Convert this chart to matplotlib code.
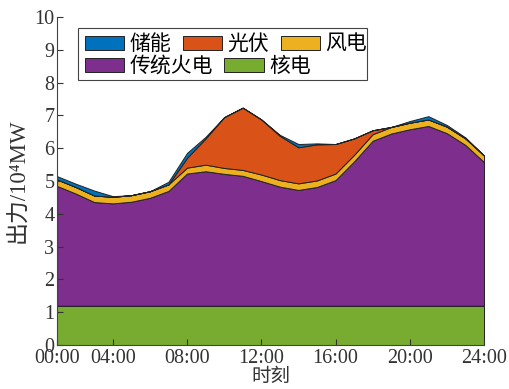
import numpy as np
import matplotlib
matplotlib.use('Agg')
import matplotlib.pyplot as plt
from matplotlib.patches import Rectangle

plt.rcParams['font.family'] = ['Liberation Serif', 'Noto Sans CJK SC']

hours = np.arange(1, 25)
tick_pos = [1, 4, 8, 12, 16, 20, 24]
tick_lab = ['00:00', '04:00', '08:00', '12:00', '16:00', '20:00', '24:00']

# 出力 (10^4 MW), 每小时
nuclear = np.full(24, 1.2)
thermal_top = np.array([4.85, 4.62, 4.36, 4.32, 4.37, 4.49, 4.70, 5.23, 5.30, 5.22, 5.16, 5.00,
                        4.83, 4.73, 4.82, 5.03, 5.60, 6.23, 6.45, 6.58, 6.68, 6.46, 6.10, 5.58])
thermal = thermal_top - nuclear
wind = np.array([0.20, 0.20, 0.20, 0.20, 0.20, 0.20, 0.20, 0.18, 0.20, 0.18, 0.18, 0.20,
                 0.20, 0.20, 0.20, 0.20, 0.20, 0.20, 0.20, 0.20, 0.20, 0.20, 0.20, 0.20])
solar = np.array([0, 0, 0, 0, 0, 0, 0, 0.30, 0.80, 1.55, 1.90, 1.68,
                  1.35, 1.10, 1.10, 0.90, 0.50, 0.12, 0, 0, 0, 0, 0, 0])
storage = np.array([0.10, 0.10, 0.15, 0.02, 0, 0, 0.08, 0.15, 0.05, 0, 0, 0,
                    0.03, 0.10, 0.03, 0, 0, 0, 0, 0.05, 0.10, 0.05, 0.03, 0])

colors = ['#77AC30', '#7E2F8E', '#EDB120', '#D95319', '#0072BD']
names = ['核电', '传统火电', '风电', '光伏', '储能']

fig = plt.figure(figsize=(5.1, 3.89), dpi=100)
ax = fig.add_axes([0.112, 0.113, 0.837, 0.843])
polys = ax.stackplot(hours, nuclear, thermal, wind, solar, storage,
                     colors=colors, labels=names, edgecolor='#222222', linewidth=0.7)

ax.set_xlim(1, 24)
ax.set_ylim(0, 10)
ax.set_xticks(tick_pos)
ax.set_xticklabels(tick_lab)
ax.set_yticks(range(0, 11))
ax.tick_params(direction='in', length=4, labelsize=14.5, colors='#333333', pad=2)
ax.tick_params(axis='x', pad=3)
for s in ['top', 'right']:
    ax.spines[s].set_visible(False)
for s in ['left', 'bottom']:
    ax.spines[s].set_color('#444444')
ax.set_xlabel('时刻', fontsize=14, labelpad=0, color='#333333')
ax.set_ylabel('出力/10⁴MW', fontsize=16.5, labelpad=4, color='#333333')

# legend frame + two rows (MATLAB style, items not column-aligned)
ax.add_patch(Rectangle((0.049, 0.808), 0.677, 0.158, transform=ax.transAxes,
                       facecolor='white', edgecolor='#444444', linewidth=0.8,
                       zorder=4.5, clip_on=False))
kw = dict(frameon=False, fontsize=15, borderpad=0, handlelength=1.9, handleheight=0.65,
          handletextpad=0.25, columnspacing=0.55, loc='center left')
row1 = [4, 3, 2]
row2 = [1, 0]
leg1 = ax.legend([polys[i] for i in row1], [names[i] for i in row1], ncol=3,
                 bbox_to_anchor=(0.040, 0.915), **kw)
ax.add_artist(leg1)
ax.legend([polys[i] for i in row2], [names[i] for i in row2], ncol=2,
          bbox_to_anchor=(0.040, 0.848), **kw)

fig.savefig('out.png', dpi=100)
